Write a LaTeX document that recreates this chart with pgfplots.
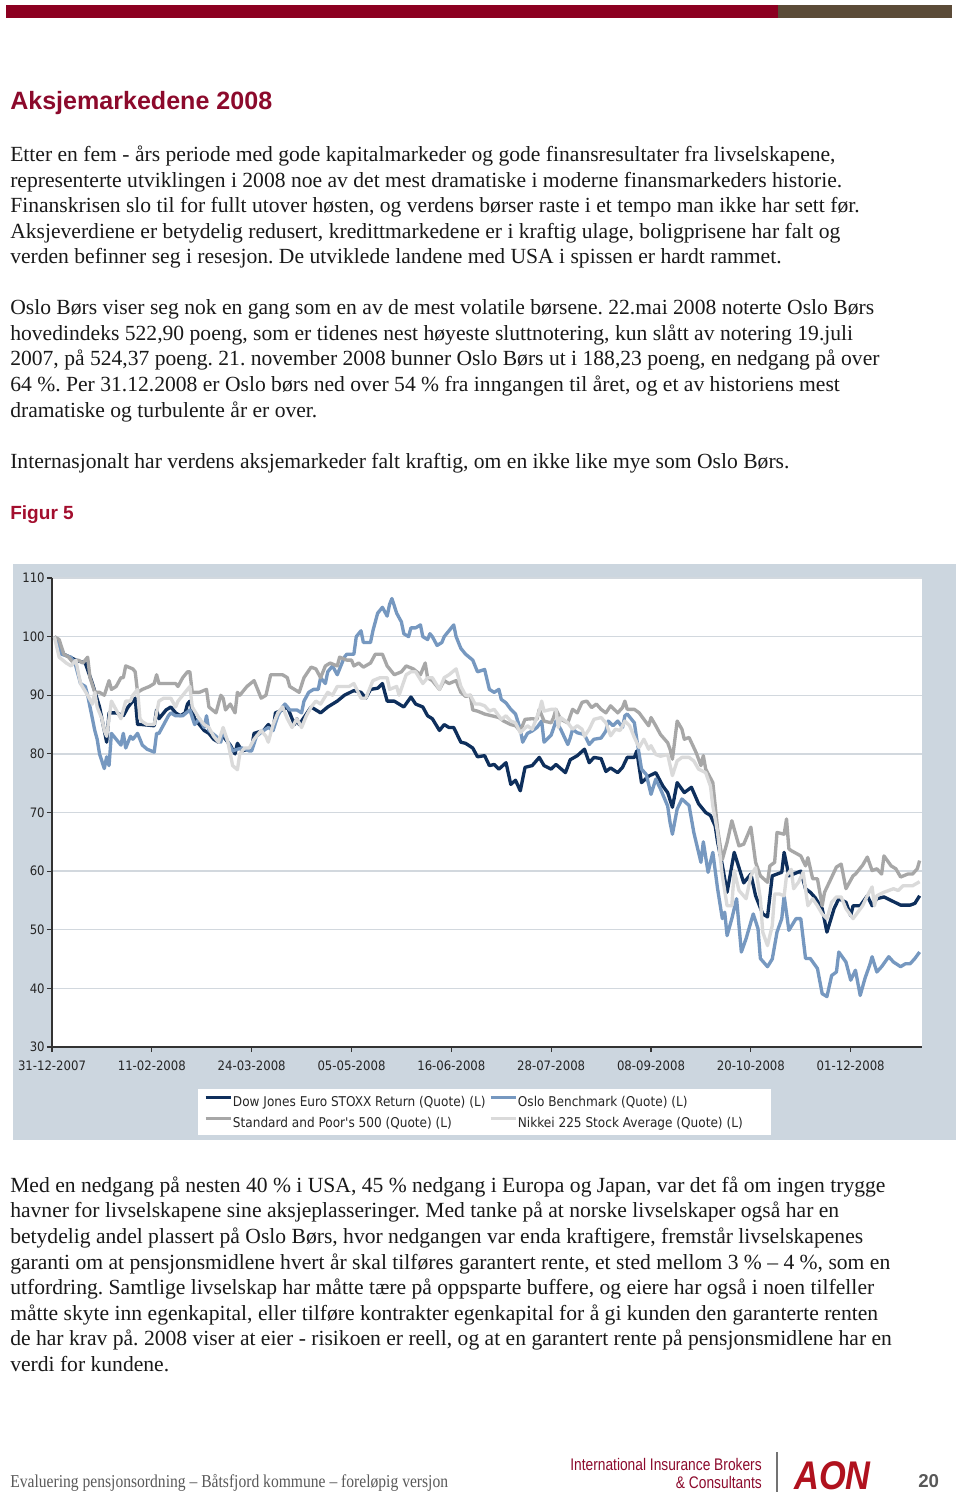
\documentclass[border=0pt]{standalone}
\usepackage{pgfplots}
\pgfplotsset{compat=1.18}
\usepackage{fontspec}
\setmainfont{Liberation Serif}
\newfontfamily\arialf{Liberation Sans}
\newfontfamily\chartf{DejaVu Sans Condensed}
\definecolor{barred}{HTML}{8C0021}
\definecolor{barbrown}{HTML}{5B4B38}
\definecolor{headred}{HTML}{8C0A2C}
\definecolor{figred}{HTML}{A30E2E}
\definecolor{panel}{HTML}{CCD6DF}
\definecolor{gridc}{HTML}{D2D8DE}
\definecolor{cDJ}{HTML}{0E2F5C}
\definecolor{cOslo}{HTML}{7698C0}
\definecolor{cSP}{HTML}{A7A7A7}
\definecolor{cNK}{HTML}{DADADA}
\definecolor{aonred}{HTML}{B0121E}
\newcommand{\body}{\fontsize{16.2}{19}\selectfont}
\frenchspacing
\begin{document}
\begin{tikzpicture}
\begin{scope}[x=0.75pt,y=-0.75pt]
\path[use as bounding box] (0,0) rectangle (960,1496);
\fill[barred] (6,5) rectangle (778,18);
\fill[barbrown] (778,5) rectangle (952,18);
\node[anchor=base west,inner sep=0pt,text=headred] at (10,109) {\arialf\bfseries\fontsize{18.8}{20}\selectfont Aksjemarkedene 2008};
\foreach \yy/\txt in {
161/{Etter en fem - års periode med gode kapitalmarkeder og gode finansresultater fra livselskapene,},
187/{representerte utviklingen i 2008 noe av det mest dramatiske i moderne finansmarkeders historie.},
212/{Finanskrisen slo til for fullt utover høsten, og verdens børser raste i et tempo man ikke har sett før.},
238/{Aksjeverdiene er betydelig redusert, kredittmarkedene er i kraftig ulage, boligprisene har falt og},
263/{verden befinner seg i resesjon. De utviklede landene med USA i spissen er hardt rammet.},
314/{Oslo Børs viser seg nok en gang som en av de mest volatile børsene. 22.mai 2008 noterte Oslo Børs},
340/{hovedindeks 522,90 poeng, som er tidenes nest høyeste sluttnotering, kun slått av notering 19.juli},
365/{2007, på 524,37 poeng. 21. november 2008 bunner Oslo Børs ut i 188,23 poeng, en nedgang på over},
391/{64 \%. Per 31.12.2008 er Oslo børs ned over 54 \% fra inngangen til året, og et av historiens mest},
417/{dramatiske og turbulente år er over.},
468/{Internasjonalt har verdens aksjemarkeder falt kraftig, om en ikke like mye som Oslo Børs.},
1192/{Med en nedgang på nesten 40 \% i USA, 45 \% nedgang i Europa og Japan, var det få om ingen trygge},
1217/{havner for livselskapene sine aksjeplasseringer. Med tanke på at norske livselskaper også har en},
1243/{betydelig andel plassert på Oslo Børs, hvor nedgangen var enda kraftigere, fremstår livselskapenes},
1269/{garanti om at pensjonsmidlene hvert år skal tilføres garantert rente, et sted mellom 3 \% – 4 \%, som en},
1294/{utfordring. Samtlige livselskap har måtte tære på oppsparte buffere, og eiere har også i noen tilfeller},
1320/{måtte skyte inn egenkapital, eller tilføre kontrakter egenkapital for å gi kunden den garanterte renten},
1345/{de har krav på. 2008 viser at eier - risikoen er reell, og at en garantert rente på pensjonsmidlene har en},
1371/{verdi for kundene.}}
{\node[anchor=base west,inner sep=0pt,text=black!90] at (10,\yy) {\body\txt};}
\node[anchor=base west,inner sep=0pt,text=figred] at (10,519) {\arialf\bfseries\fontsize{14.3}{16}\selectfont Figur 5};
\fill[panel] (13,564) rectangle (956,1140);
% footer
\node[anchor=base west,inner sep=0pt,text=black!65] at (10,1487) {\scalebox{0.86}[1]{\fontsize{13.6}{15}\selectfont Evaluering pensjonsordning -- Båtsfjord kommune -- foreløpig versjon}};
\node[anchor=base east,inner sep=0pt,text=headred] at (762,1470) {\scalebox{0.82}[1]{\arialf\fontsize{12.6}{13}\selectfont International Insurance Brokers}};
\node[anchor=base east,inner sep=0pt,text=headred] at (762,1488) {\scalebox{0.82}[1]{\arialf\fontsize{12.6}{13}\selectfont \& Consultants}};
\draw[black!55,line width=0.8pt] (777,1452) -- (777,1492);
\node[anchor=base west,inner sep=0pt,text=aonred] at (794,1489) {\scalebox{0.86}[1]{\arialf\bfseries\itshape\fontsize{30}{30}\selectfont AON}};
\node[anchor=base west,inner sep=0pt,text=black!65] at (918,1487) {\arialf\bfseries\fontsize{14}{16}\selectfont 20};
\end{scope}
\begin{axis}[
  at={(39pt,-785.25pt)}, anchor=south west,
  scale only axis, width=652.5pt, height=351.75pt,
  xmin=0, xmax=366, ymin=30, ymax=110,
  axis x line*=bottom, axis y line*=left,
  axis line style={black!80, line width=1.3pt, -},
  axis background/.style={fill=white},
  xtick={0,42,84,126,168,210,252,294,336},
  xticklabels={31-12-2007,11-02-2008,24-03-2008,05-05-2008,16-06-2008,28-07-2008,08-09-2008,20-10-2008,01-12-2008},
  ytick={30,40,...,110},
  ymajorgrids, grid style={gridc, line width=1.1pt},
  tick align=outside, major tick length=3.8pt,
  tick style={black!80, line width=0.9pt},
  /pgf/number format/assume math mode=true,
  tick label style={font=\chartf\fontsize{9.75}{11}\selectfont, text=black!85},
  yticklabel style={inner sep=1.5pt},
  xticklabel style={inner sep=2pt, yshift=-4.5pt},
  clip=false,
  legend columns=2,
  legend cell align=left,
  legend image code/.code={\draw[#1, line width=2.2pt] (0pt,3.3pt) -- (18.75pt,3.3pt);},
  legend style={at={(axis description cs:0.1678,0)}, anchor=north west, yshift=-31.5pt,
    draw=none, fill=white, inner xsep=4.5pt, inner ysep=1.5pt,
    font=\chartf\fontsize{10.1}{11}\selectfont, text=black!85,
    nodes={inner sep=0pt, text height=11.5pt, text depth=4.2pt}},
  every axis plot/.append style={line width=2.5pt, line join=round},
]
\addplot[cDJ] coordinates {
(1,100) (5,97) (10,96) (14,95.5) (17,92) (20,88) (23,82) (24,87) (27,87) (30,86.5) (32,88) (35,89.5) (36,85) (38,85) (43,84.8) (44,87.5) (45,86) (48,87.5) (50,88) (52,87) (54,86.5) (56,87) (57,88.5) (58,89) (60,86) (64,84) (66,83.5) (68,82.5) (70,82) (72,83) (75,81.5) (77,80) (78,81.8) (80,80.5) (84,81) (85,83.5) (89,84) (91,85) (93,84) (94,87) (97,87.5) (99,88) (100,87) (102,85) (103,86) (104,85) (109,88) (113,87) (116,88) (120,89) (123,90) (127,90.8) (130,90.5) (132,89.5) (134,91) (137,91.2) (139,92) (141,89) (144,89) (146,88.5) (148,88) (151,89.7) (153,88.5) (156,88) (158,86.5) (160,86) (163,84) (165,85) (167,84.5) (169,84.5) (172,82) (174,81.8) (177,81) (179,79.5) (182,79.7) (184,78) (186,78.2) (188,77.4) (191,78.5) (193,74.8) (195,75.5) (197,73.7) (199,77.7) (202,78) (205,79.4) (207,78) (210,77.4) (212,78.2) (216,76.8) (218,79) (221,79.7) (224,80.8) (226,78.5) (228,79.4) (231,79.2) (233,77) (235,77.6) (238,76.8) (240,77.7) (242,79.4) (245,79.4) (246,80.5) (248,75.1) (251,76.2) (254,76.8) (257,74.5) (259,73.4) (261,70.9) (263,75.1) (266,73.4) (269,74.3) (272,71.5) (275,70) (277,69.5) (279,67.7) (280,65) (282,61) (284,56.4) (287,63.2) (291,58) (294,59.5) (296,55.8) (299,52.7) (301,52.2) (303,59.2) (307,59.8) (308,63.2) (310,59.2) (315,60) (317,57) (319,56.4) (321,55.5) (324,53.6) (326,49.6) (329,53.6) (331,55.3) (334,54.7) (336,52.4) (337,54.1) (340,54.1) (343,55.8) (345,54.1) (347,55.3) (350,55.6) (353,55) (357,54.2) (361,54.2) (363,54.5) (365,55.8)
};
\addlegendentry{\makebox[192.75pt][l]{\hspace{0.6pt}Dow Jones Euro STOXX Return (Quote) (L)}}
\addplot[cOslo] coordinates {
(1,100) (4,97) (8,96.5) (10,95) (12,92) (14,91.5) (15,90) (17,86) (18,84) (19,82.5) (20,80) (22,77.5) (23,79.5) (24,78) (25,83.5) (28,82) (29,81.5) (30,83.5) (31,81) (33,83) (34,82.5) (36,83.5) (38,81.5) (40,80.8) (43,80.3) (44,83.5) (45,83.5) (47,85) (49,86.5) (50,87) (52,86.5) (55,86.5) (58,87.5) (60,85) (62,86) (64,84.5) (65,86.5) (66,84) (69,83) (71,82) (72,84) (74,82) (76,80.5) (78,80.8) (80,81) (83,80.5) (84,80.5) (86,83) (89,84) (91,84.5) (93,84) (95,86.5) (97,88) (98,88.5) (100,87.5) (103,87.5) (105,87) (106,89) (108,90.5) (110,91) (112,91) (113,93) (115,92) (116,94) (118,95) (120,93.5) (123,96.5) (124,97) (127,97) (128,100) (130,101) (131,99) (134,99) (135,101) (137,104) (139,105) (141,103.5) (142,105.5) (143,106.5) (145,104) (147,102.5) (148,100.5) (150,100) (151,101.5) (153,101.5) (155,102) (156,100) (158,99.5) (159,100.5) (160,100) (162,98.5) (164,99) (165,100) (167,101) (169,102) (170,100) (172,98) (174,97) (177,96) (179,94) (182,94.4) (184,91) (186,90.5) (188,91) (189,89.3) (191,88.7) (193,87.6) (195,86.8) (197,84.2) (198,82) (200,83.5) (202,83.9) (204,84.5) (206,85.6) (207,82) (210,83.2) (212,85.6) (214,84.2) (217,81.6) (218,82.7) (219,84.2) (221,83.6) (224,83.3) (226,81.6) (228,82.5) (231,82.7) (233,83.9) (234,85.6) (236,84.8) (238,85.6) (240,84.5) (241,86.5) (242,86.8) (245,85.3) (246,82.5) (248,77.4) (250,76.5) (252,73.1) (254,75.7) (256,74) (259,71.1) (260,68.3) (261,66.3) (263,70.6) (265,72.3) (268,71.2) (270,66.6) (273,61.5) (274,65) (276,59.8) (278,63.2) (280,57) (282,51.9) (283,53) (284,49) (286,51.9) (288,55.3) (290,46.2) (292,48.5) (295,52.7) (297,50.2) (298,45.1) (301,43.7) (303,45) (305,49.6) (307,51.9) (308,55.8) (310,49.9) (313,51.9) (315,51.9) (317,45.1) (319,45.1) (322,43.4) (324,39.1) (326,38.6) (328,42.2) (330,42.8) (331,46.2) (334,44.5) (336,41.4) (338,43.1) (340,38.8) (342,41.7) (344,44) (345,45.4) (347,42.8) (349,43.7) (352,45.4) (354,44.5) (357,43.7) (359,44.2) (361,44.2) (363,45.1) (365,46.2)
};
\addlegendentry{\makebox[186pt][l]{\hspace{0.6pt}Oslo Benchmark (Quote) (L)}}
\addplot[cSP] coordinates {
(1,100) (3,99.5) (5,97) (7,96.5) (9,95.5) (11,96) (13,95.5) (15,96.5) (16,93) (18,90.5) (20,90.5) (22,90) (24,92.5) (25,91) (27,91.5) (29,93) (30,93) (31,95) (34,94.5) (35,94) (36,90.5) (38,91) (41,91.5) (43,92) (44,93.5) (45,92) (50,92) (52,92) (53,91.5) (55,93) (57,94) (58,94) (59,90.5) (62,90.5) (65,91) (66,88) (69,87) (71,90) (72,89.5) (73,87.5) (75,88.5) (77,87) (78,90.5) (79,90) (82,91.5) (85,92.5) (88,89.5) (90,90) (92,93.5) (95,93.5) (97,93.5) (99,93) (100,91.5) (102,91) (104,90.5) (106,93) (109,94.8) (111,94.5) (113,93) (115,95) (117,95.5) (120,95) (121,96.5) (124,96) (126,96) (127,95) (129,95.5) (131,94.8) (134,95.5) (136,97) (139,97) (141,95) (143,94) (144,93.5) (147,94) (149,95) (152,94.5) (155,93.5) (157,95.5) (158,93) (160,92.5) (163,91) (165,92.5) (167,92) (170,92.5) (172,90.5) (174,89.8) (176,90) (177,87.5) (179,87.3) (182,86.8) (185,86.5) (188,86.2) (190,85.6) (193,85) (195,84.8) (197,83.9) (199,85.9) (202,86) (204,85.9) (205,87.6) (207,85.6) (210,85.3) (211,86.2) (212,87.6) (214,85.9) (217,85.3) (219,87.6) (221,87) (223,88.8) (225,89) (227,87.9) (229,88.5) (231,87.6) (233,87) (235,88.2) (238,87) (240,87.9) (241,89) (242,87.6) (245,87.6) (247,87) (249,85.9) (251,84.8) (252,86.2) (254,84.8) (256,83.3) (259,81.9) (260,80.8) (261,79.1) (263,85.6) (265,84.2) (266,82.5) (268,82.8) (271,80.2) (273,78) (274,79.7) (275,77.4) (278,75.1) (280,67.2) (282,62) (284,64.9) (286,68.6) (289,64.3) (291,64.6) (294,67.5) (296,61.5) (298,59.2) (301,58.1) (302,60.9) (304,61.5) (305,66.6) (308,66.3) (309,68.9) (310,63.8) (311,63.5) (315,62.6) (317,60.9) (318,62.3) (320,58.7) (322,58.7) (324,54.1) (325,56.4) (327,58.1) (330,60.7) (332,61.2) (334,57) (337,59.2) (338,59.5) (341,61) (343,62.4) (345,60.1) (347,60.4) (349,59.5) (350,62.6) (353,60.9) (355,60.4) (357,59) (360,59.5) (362,59.5) (364,60.4) (365,61.8)
};
\addlegendentry{\makebox[192.75pt][l]{\hspace{0.6pt}Standard and Poor's 500 (Quote) (L)}}
\addplot[cNK] coordinates {
(1,100) (3,96.5) (6,95.5) (8,95) (10,96) (12,92) (15,90) (17,88.5) (18,90.5) (19,88) (21,86) (22,84) (23,83) (25,89) (27,87.5) (29,86) (31,89) (33,89) (34,90) (36,91) (37,86) (38,85.5) (40,85) (42,85) (43,85) (45,89) (47,89.5) (50,89.5) (52,88) (53,89) (55,90) (58,91.5) (59,88) (62,86) (64,85) (66,84.5) (68,83) (70,82) (72,84.5) (74,82) (76,78) (78,77.3) (79,80) (81,81) (83,81) (85,82.5) (88,84) (90,83) (91,82) (93,85) (95,87) (97,88) (99,86) (101,84.5) (103,86) (105,84.5) (107,86.5) (109,88) (111,89) (113,88.5) (116,90.5) (118,90) (120,91.5) (123,91.5) (125,91.5) (127,92) (130,89.5) (132,89.5) (135,92.5) (138,93) (141,93) (142,91) (145,91.5) (146,90) (149,93.5) (151,94) (153,94) (156,92) (158,93) (160,93) (163,91) (165,93) (167,93.5) (170,94.5) (172,91.5) (174,90) (176,90) (178,88.5) (180,88.5) (182,88.2) (184,87.3) (186,87.6) (189,85.9) (191,86.5) (193,85.6) (195,85.3) (197,83.6) (200,84.8) (202,84.2) (205,87.3) (206,89) (207,87.3) (210,87.6) (212,87.6) (213,84.5) (214,86.2) (217,85.3) (219,84.2) (221,84.8) (223,84.2) (224,83) (226,84.2) (228,85.9) (231,86.2) (233,85.3) (235,83.1) (237,84.2) (239,84) (241,85.6) (243,84.8) (245,82.8) (247,81.1) (249,82.5) (251,80.8) (252,81.4) (254,79.9) (256,79.6) (259,79.9) (261,76.3) (263,78.8) (265,79.4) (268,79.4) (270,78.8) (272,77.4) (275,76.8) (277,74.5) (278,71.1) (280,66.6) (282,59.2) (284,54.1) (286,54.1) (287,60.1) (289,56.7) (292,55.3) (294,59.2) (296,60.6) (298,55.3) (299,49.6) (301,47.3) (303,50.7) (304,56.1) (306,56.1) (308,55.8) (309,59.2) (311,60.3) (312,57) (314,58.1) (316,59.8) (318,54.1) (320,55.3) (322,54.1) (324,52.7) (326,51.9) (328,54.7) (330,55.6) (332,55.6) (334,53.6) (337,51.9) (339,53) (341,54.1) (343,55.8) (345,57.3) (346,54.1) (347,55.8) (350,56.4) (352,56.7) (354,57) (356,56.7) (358,57.5) (360,57.5) (362,57.5) (365,58.2)
};
\addlegendentry{\makebox[186pt][l]{\hspace{0.6pt}Nikkei 225 Stock Average (Quote) (L)}}
\end{axis}
\end{tikzpicture}
\end{document}
